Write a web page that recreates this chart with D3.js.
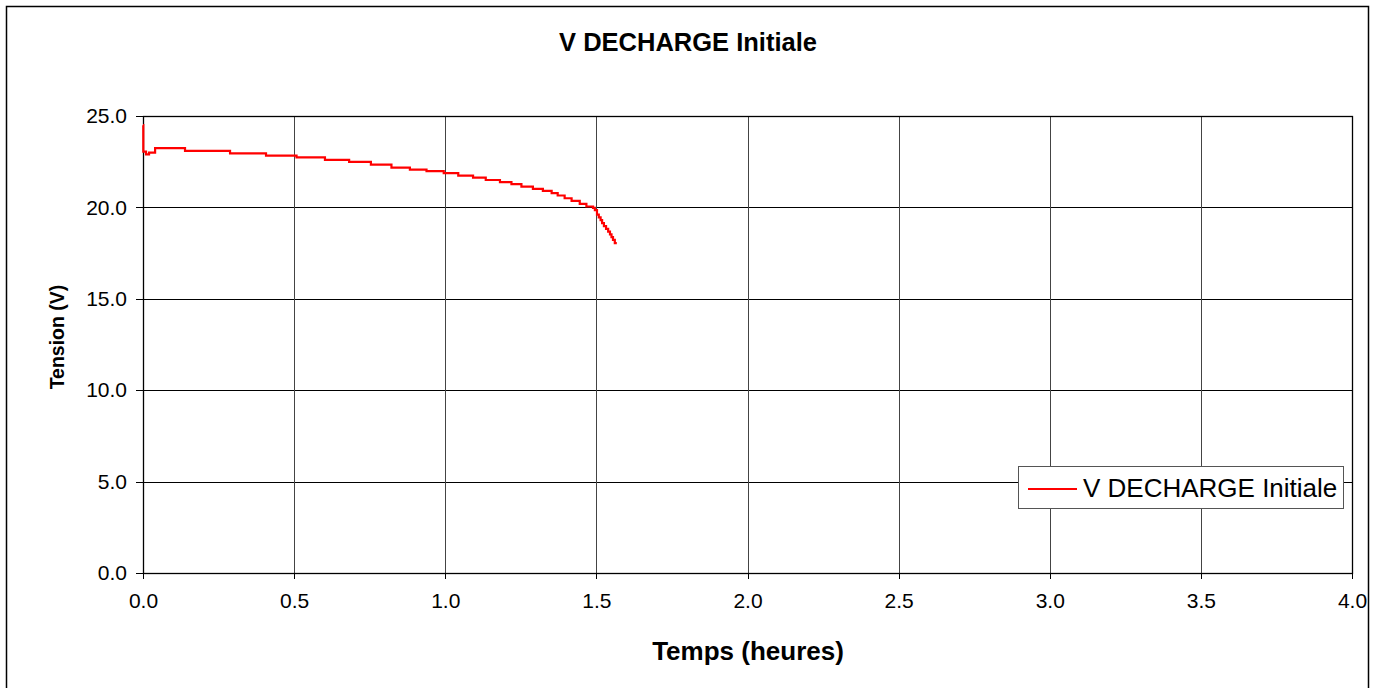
<!DOCTYPE html>
<meta charset="utf-8">
<script src="https://cdn.jsdelivr.net/npm/d3@7"></script>
<style>
body { margin: 0; background: #fff; font-family: Arial, "Liberation Sans", sans-serif; }
.axis path, .axis line { stroke: #000; shape-rendering: crispEdges; }
.axis text { font-family: Arial, "Liberation Sans", sans-serif; font-size: 21px; fill: #000; }
</style>
<body>
<script>
// temps (heures) and tension (V)
var temps = [0, 0.001, 0.01, 0.02, 0.04, 0.139, 0.288, 0.407, 0.508, 0.602, 0.682, 0.754,
  0.822, 0.883, 0.938, 0.995, 1.043, 1.092, 1.134, 1.181, 1.219, 1.252, 1.290, 1.323,
  1.352, 1.372, 1.395, 1.418, 1.445, 1.467, 1.489, 1.495, 1.502, 1.508, 1.514, 1.519,
  1.525, 1.532, 1.539, 1.545, 1.550, 1.555, 1.561, 1.564];
var tension = [24.5, 23.05, 22.9, 23.0, 23.24, 23.09, 22.96, 22.83, 22.74, 22.60, 22.49, 22.34,
  22.18, 22.07, 21.98, 21.87, 21.74, 21.63, 21.50, 21.38, 21.27, 21.14, 21.01, 20.90,
  20.78, 20.65, 20.50, 20.36, 20.19, 20.05, 19.97, 19.85, 19.60, 19.45, 19.30, 19.14,
  18.98, 18.83, 18.68, 18.52, 18.37, 18.22, 18.05, 17.98];

var xTicks = [0, 0.5, 1, 1.5, 2, 2.5, 3, 3.5, 4];
var yTicks = [0, 5, 10, 15, 20, 25];
var seriesName = "V DECHARGE Initiale";

var W = 1381, H = 688;
var pLeft = 143, pRight = 1352, pTop = 116, pBottom = 573;

var svg = d3.select("body").append("svg")
  .attr("width", W)
  .attr("height", H);

// outer chart frame
svg.append("rect")
  .attr("x", 6.5).attr("y", 6.5)
  .attr("width", 1362).attr("height", 700)
  .attr("fill", "#fff").attr("stroke", "#000").attr("stroke-width", 1.5);

var x = d3.scaleLinear().domain([0, 4]).range([pLeft, pRight]);
var y = d3.scaleLinear().domain([0, 25]).range([pBottom, pTop]);

// grid
var grid = svg.append("g").attr("class", "grid").attr("shape-rendering", "crispEdges");
grid.selectAll(".h").data(yTicks).enter().append("line")
  .attr("x1", pLeft).attr("x2", pRight)
  .attr("y1", function(d) { return Math.round(y(d)) + 0.5; })
  .attr("y2", function(d) { return Math.round(y(d)) + 0.5; })
  .attr("stroke", "#000");
grid.selectAll(".v").data(xTicks).enter().append("line")
  .attr("y1", pTop).attr("y2", pBottom)
  .attr("x1", function(d) { return Math.round(x(d)) + 0.5; })
  .attr("x2", function(d) { return Math.round(x(d)) + 0.5; })
  .attr("stroke", "#444");

// plot border
svg.append("rect")
  .attr("x", pLeft + 0.5).attr("y", pTop + 0.5)
  .attr("width", pRight - pLeft).attr("height", pBottom - pTop)
  .attr("fill", "none").attr("stroke", "#000").attr("stroke-width", 1.3);

// axes
svg.append("g").attr("class", "axis")
  .attr("transform", "translate(0," + pBottom + ")")
  .call(d3.axisBottom(x).tickValues(xTicks).tickFormat(d3.format(".1f"))
    .tickSizeInner(6).tickSizeOuter(0).tickPadding(14));

svg.append("g").attr("class", "axis")
  .attr("transform", "translate(" + pLeft + ",0)")
  .call(d3.axisLeft(y).tickValues(yTicks).tickFormat(d3.format(".1f"))
    .tickSizeInner(7).tickSizeOuter(0).tickPadding(9));

// series
var line = d3.line()
  .x(function(d, i) { return x(temps[i]); })
  .y(function(d) { return y(d); })
  .curve(d3.curveStepAfter);

svg.append("path")
  .datum(tension)
  .attr("d", line)
  .attr("fill", "none")
  .attr("stroke", "#ff0000")
  .attr("stroke-width", 2.2);

// titles
svg.append("text")
  .attr("x", 688).attr("y", 51)
  .attr("text-anchor", "middle")
  .style("font-size", "25.5px").style("font-weight", "bold")
  .text(seriesName);

svg.append("text")
  .attr("x", 748).attr("y", 660)
  .attr("text-anchor", "middle")
  .style("font-size", "26px").style("font-weight", "bold")
  .text("Temps (heures)");

svg.append("text")
  .attr("transform", "translate(64,337) rotate(-90)")
  .attr("text-anchor", "middle")
  .style("font-size", "19.5px").style("font-weight", "bold")
  .text("Tension (V)");

// legend
var lg = svg.append("g").attr("transform", "translate(1018,466)");
lg.append("rect")
  .attr("x", 0.5).attr("y", 0.5)
  .attr("width", 325).attr("height", 42)
  .attr("fill", "#fff").attr("stroke", "#555").attr("stroke-width", 1);
lg.append("line")
  .attr("x1", 10).attr("x2", 59)
  .attr("y1", 23).attr("y2", 23)
  .attr("stroke", "#ff0000").attr("stroke-width", 2);
lg.append("text")
  .attr("x", 65).attr("y", 31)
  .style("font-size", "26px")
  .text(seriesName);
</script>
</body>
